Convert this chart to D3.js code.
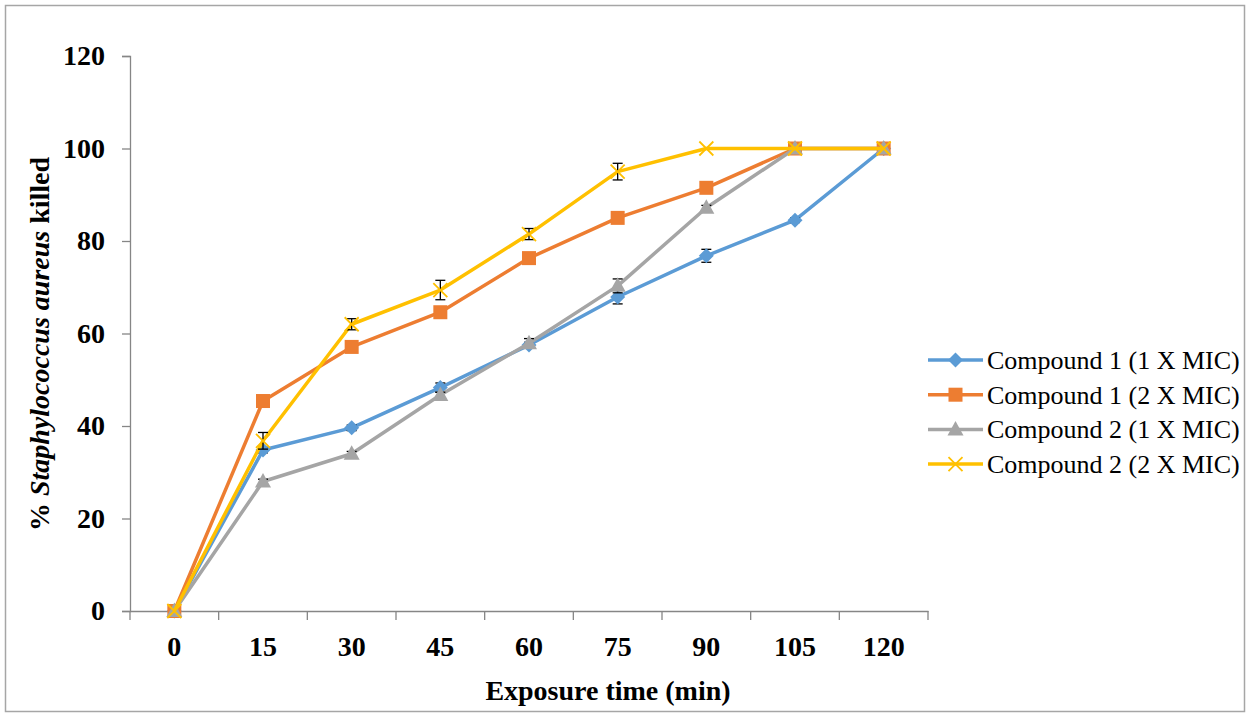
<!DOCTYPE html>
<html><head><meta charset="utf-8">
<script src="https://cdn.jsdelivr.net/npm/d3@7"></script>
<style>body{margin:0;background:#fff}svg{display:block}</style>
</head><body>
<svg id="c" width="1249" height="717"></svg>
<script>
const categories = ["0","15","30","45","60","75","90","105","120"];
const yTicks = [0,20,40,60,80,100,120];
const seriesNames = ["Compound 1 (1 X MIC)","Compound 1 (2 X MIC)","Compound 2 (1 X MIC)","Compound 2 (2 X MIC)"];
const c1x1 = [0,34.8,39.6,48.3,57.5,67.9,76.8,84.5,100];
const c1x2 = [0,45.4,57.1,64.6,76.3,85.0,91.5,100,100];
const c2x1 = [0,28.0,34.0,46.7,57.9,70.3,87.2,100,100];
const c2x2 = [0,36.8,62.0,69.4,81.5,95.0,100,100,100];
const c1x1Err = [0,0.6,0.6,1.0,0.6,1.5,1.4,0.5,0];
const c1x2Err = [0,0.5,0.5,0.5,0.5,0.5,0.5,0,0];
const c2x1Err = [0,0.5,0.5,0.6,1.0,1.5,0.5,0,0];
const c2x2Err = [0,1.8,1.2,2.1,1.2,1.8,0,0,0];
const colors = ["#5B9BD5","#ED7D31","#A5A5A5","#FFC000"];
const markers = ["diamond","square","triangle","x"];

const svg = d3.select("#c");
svg.append("rect").attr("x",5.5).attr("y",5.5).attr("width",1239).attr("height",706)
  .attr("fill","#fff").attr("stroke","#A6A6A6").attr("stroke-width",1.5);

const x0 = 130, x1 = 928, yTop = 56, yBot = 611;
const x = d3.scaleBand().domain(categories).range([x0,x1]);
const y = d3.scaleLinear().domain([0,120]).range([yBot,yTop]);
const font = "'Liberation Serif','Times New Roman',serif";

// Y axis
const ya = svg.append("g").attr("transform",`translate(${x0},0)`)
  .call(d3.axisLeft(y).tickValues(yTicks).tickSize(8).tickPadding(17).tickFormat(d3.format("d")));
ya.select(".domain").attr("stroke","#868686").attr("stroke-width",1.3);
ya.selectAll(".tick line").attr("stroke","#868686").attr("stroke-width",1.3);
ya.selectAll("text").attr("font-family",font).attr("font-weight","bold").attr("font-size",28).attr("fill","#000");

// X axis
const xa = svg.append("g").attr("transform",`translate(0,${yBot})`)
  .call(d3.axisBottom(x).tickSize(0).tickPadding(25));
xa.select(".domain").attr("stroke","#868686").attr("stroke-width",1.3);
xa.selectAll("text").attr("font-family",font).attr("font-weight","bold").attr("font-size",28).attr("fill","#000");
const bounds = categories.map(c=>x(c)).concat([x1]);
xa.selectAll(".btick").data(bounds).enter().append("line")
  .attr("x1",d=>d).attr("x2",d=>d).attr("y1",0).attr("y2",9)
  .attr("stroke","#868686").attr("stroke-width",1.3);

// Titles
svg.append("text").attr("x",608).attr("y",700).attr("text-anchor","middle")
  .attr("font-family",font).attr("font-weight","bold").attr("font-size",28).text("Exposure time (min)");
const yt = svg.append("text").attr("transform","translate(49,344) rotate(-90)").attr("text-anchor","middle")
  .attr("font-family",font).attr("font-weight","bold").attr("font-size",28);
yt.append("tspan").text("% ");
yt.append("tspan").attr("font-style","italic").text("Staphylococcus aureus");
yt.append("tspan").text(" killed");

function drawMarker(g, type, cx, cy, color){
  if(type==="diamond"){
    g.append("path").attr("d",`M${cx},${cy-7.5}L${cx+7.5},${cy}L${cx},${cy+7.5}L${cx-7.5},${cy}Z`).attr("fill",color);
  } else if(type==="square"){
    g.append("rect").attr("x",cx-7).attr("y",cy-7).attr("width",14).attr("height",14).attr("fill",color);
  } else if(type==="triangle"){
    g.append("path").attr("d",`M${cx},${cy-8.5}L${cx+8},${cy+6}L${cx-8},${cy+6}Z`).attr("fill",color);
  } else {
    g.append("path").attr("d",`M${cx-7},${cy-7}L${cx+7},${cy+7}M${cx+7},${cy-7}L${cx-7},${cy+7}`)
      .attr("stroke",color).attr("stroke-width",1.8).attr("fill","none");
  }
}

const allSeries = [c1x1,c1x2,c2x1,c2x2];
const allErr = [c1x1Err,c1x2Err,c2x1Err,c2x2Err];
const cx = c => x(c) + x.bandwidth()/2;
const line = d3.line().x((d,i)=>cx(categories[i])).y(d=>y(d));
allSeries.forEach((vals,si)=>{
  const g = svg.append("g");
  g.append("path").datum(vals).attr("d",line).attr("fill","none")
    .attr("stroke",colors[si]).attr("stroke-width",3.5).attr("stroke-linejoin","round");
  vals.forEach((v,i)=>{
    const e = allErr[si][i]; if(!e) return;
    const px = cx(categories[i]);
    const eg = g.append("g").attr("stroke","#000").attr("stroke-width",1.3);
    eg.append("line").attr("x1",px).attr("x2",px).attr("y1",y(v-e)).attr("y2",y(v+e));
    eg.append("line").attr("x1",px-5).attr("x2",px+5).attr("y1",y(v-e)).attr("y2",y(v-e));
    eg.append("line").attr("x1",px-5).attr("x2",px+5).attr("y1",y(v+e)).attr("y2",y(v+e));
  });
  vals.forEach((v,i)=>drawMarker(g, markers[si], cx(categories[i]), y(v), colors[si]));
});

// Legend
const lg = svg.append("g");
seriesNames.forEach((n,i)=>{
  const ly = 360 + i*34.7;
  lg.append("line").attr("x1",928).attr("x2",983).attr("y1",ly).attr("y2",ly)
    .attr("stroke",colors[i]).attr("stroke-width",3.5);
  drawMarker(lg, markers[i], 955.5, ly, colors[i]);
  lg.append("text").attr("x",987).attr("y",ly+9).attr("font-family",font).attr("font-size",26).text(n);
});
</script>
</body></html>
